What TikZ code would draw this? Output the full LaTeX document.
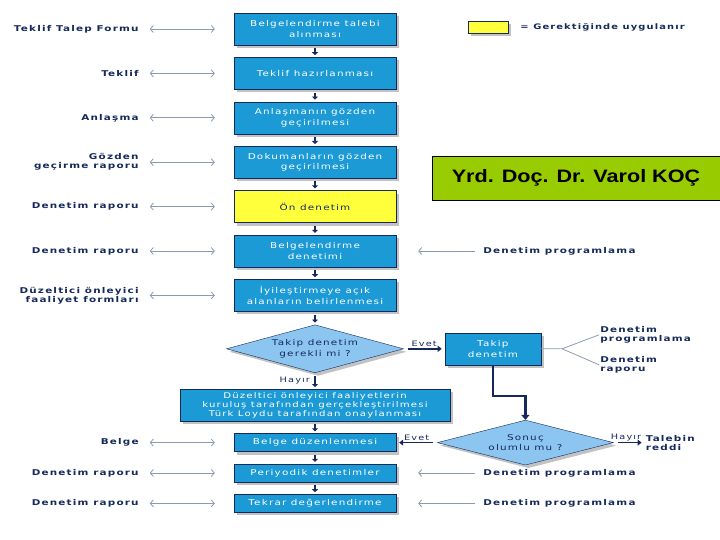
\documentclass[tikz,border=0pt]{standalone}
\usepackage{fontspec}
\usepackage{xcolor}
\usepackage{tikz}
\usetikzlibrary{arrows.meta,positioning,shapes.geometric,shadows}
\newfontfamily\flowfont[FakeStretch=1.3,LetterSpace=15]{DejaVu Sans}
\newfontfamily\namefont[FakeStretch=1.2]{Liberation Sans}
\definecolor{tlnavy}{HTML}{15295A}
\definecolor{tlblue}{HTML}{1C9AD6}
\definecolor{tldia}{HTML}{8CC6F0}
\definecolor{tlgray}{HTML}{8C9BB0}
\definecolor{tlyellow}{HTML}{FFFF3C}
\definecolor{tlgreen}{HTML}{99CC00}

\begin{document}
\begin{tikzpicture}[x=1pt, y=-1pt, >=Stealth, node distance=12pt,
  box/.style={rectangle, draw=tlnavy, fill=tlblue, text=white, minimum width=162pt,
              minimum height=32pt, inner sep=2pt, align=center,
              font=\flowfont\fontsize{8}{10.5}\selectfont,
              drop shadow={shadow xshift=3pt, shadow yshift=-3pt, fill=black!40, opacity=.6}},
  ybox/.style={box, fill=tlyellow, text=tlnavy},
  dec/.style={diamond, draw=tlnavy, fill=tldia, text=tlnavy, inner sep=0pt, aspect=3.7,
              align=center, font=\flowfont\fontsize{8}{10.5}\selectfont,
              drop shadow={shadow xshift=3pt, shadow yshift=-3pt, fill=black!40, opacity=.6}},
  lbl/.style={text=tlnavy, inner sep=1pt, align=right,
              font=\flowfont\bfseries\fontsize{8}{9}\selectfont},
  rlbl/.style={lbl, align=left},
  lab/.style={text=tlnavy, inner sep=1pt, font=\flowfont\fontsize{7.5}{8}\selectfont},
  dbl/.style={draw=tlgray, line width=0.8pt,
              {Straight Barb[length=3pt,width=7pt]}-{Straight Barb[length=3pt,width=7pt]},
              shorten <=10pt, shorten >=19pt},
  garr/.style={draw=tlgray, line width=0.8pt, -{Straight Barb[length=3pt,width=7pt]},
               shorten <=7pt, shorten >=22pt},
  flow/.style={draw=tlnavy, line width=2pt, -{Triangle[length=3pt,width=6pt]},
               shorten <=3pt, shorten >=2pt},
  yes/.style={draw=tlnavy, line width=1.5pt, -{Triangle[length=4pt,width=6pt]},
              shorten <=4pt, shorten >=3pt}]

  \useasboundingbox (0,0) rectangle (720,540);

  % Main flow
  \node[box] (b1) at (315,29) {Belgelendirme talebi\\alınması};
  \node[box, below=of b1] (b2) {Teklif hazırlanması};
  \node[box, below=of b2] (b3) {Anlaşmanın gözden\\geçirilmesi};
  \node[box, below=of b3] (b4) {Dokumanların gözden\\geçirilmesi};
  \node[ybox, below=of b4] (b5) {Ön denetim};
  \node[box, below=of b5] (b6) {Belgelendirme\\denetimi};
  \node[box, below=of b6] (b7) {İyileştirmeye açık\\alanların belirlenmesi};
  \node[dec, minimum width=177pt, minimum height=48pt, below=13pt of b7] (d1)
    {Takip denetim\\gerekli mi ?};
  \node[box, minimum width=270pt, below=16pt of d1,
        font=\flowfont\fontsize{7.8}{8.8}\selectfont] (b9)
    {Düzeltici önleyici faaliyetlerin\\kuruluş tarafından gerçekleştirilmesi\\Türk Loydu tarafından onaylanması};
  \node[box, minimum height=18pt, below=12pt of b9] (b10) {Belge düzenlenmesi};
  \node[box, minimum height=18pt, below=of b10] (b11) {Periyodik denetimler};
  \node[box, minimum height=18pt, below=of b11] (b12) {Tekrar değerlendirme};

  \foreach \a/\b in {b1/b2, b2/b3, b3/b4, b4/b5, b5/b6, b6/b7, b7/d1, b9/b10, b10/b11, b11/b12}
    \draw[flow] (\a) -- (\b);
  \draw[flow] (d1) -- (b9) node[midway, left=3pt, lab] {Hayır};

  % Follow-up branch
  \node[box, minimum width=96pt, right=41pt of d1] (t1) {Takip\\denetim};
  \node[dec, minimum width=176pt, minimum height=45pt, right=41pt of b10] (d2)
    {Sonuç\\olumlu mu ?};
  \draw[yes] (d1) -- (t1) node[midway, above, lab] {Evet};
  \draw[draw=tlnavy, line width=2.5pt, -{Triangle[length=5pt,width=8pt]}]
    (t1.south) -- ++(0,31) -| (d2.north);
  \draw[yes] (d2) -- (b10) node[midway, above, lab] {Evet};
  \node[rlbl, right=31pt of d2] (rej) {Talebin\\reddi};
  \draw[yes] (d2) -- (rej) node[midway, above, lab, xshift=-3pt] {Hayır};

  \coordinate[right=21pt of t1] (fk);
  \node[rlbl, right=37pt of fk, yshift=14pt] (tp) {Denetim\\programlama};
  \node[rlbl, right=37pt of fk, yshift=-16pt] (tr) {Denetim\\raporu};
  \draw[tlgray, line width=0.8pt] (t1) -- (fk) -- (tp.west);
  \draw[tlgray, line width=0.8pt] (fk) -- (tr.west);

  % Documents on the left
  \node[lbl, left=94pt of b1] (l1) {Teklif Talep Formu};
  \node[lbl, left=94pt of b2] (l2) {Teklif};
  \node[lbl, left=94pt of b3] (l3) {Anlaşma};
  \node[lbl, left=94pt of b4] (l4) {Gözden\\geçirme raporu};
  \node[lbl, left=94pt of b5] (l5) {Denetim raporu};
  \node[lbl, left=94pt of b6] (l6) {Denetim raporu};
  \node[lbl, left=94pt of b7] (l7) {Düzeltici önleyici\\faaliyet formları};
  \node[lbl, left=94pt of b10] (l10) {Belge};
  \node[lbl, left=94pt of b11] (l11) {Denetim raporu};
  \node[lbl, left=94pt of b12] (l12) {Denetim raporu};
  \foreach \l/\b in {l1/b1, l2/b2, l3/b3, l4/b4, l5/b5, l6/b6, l7/b7, l10/b10, l11/b11, l12/b12}
    \draw[dbl] (\l) -- (\b);

  % Planning on the right
  \node[rlbl, right=86pt of b6] (p6) {Denetim programlama};
  \node[rlbl, right=86pt of b11] (p11) {Denetim programlama};
  \node[rlbl, right=86pt of b12] (p12) {Denetim programlama};
  \foreach \p/\b in {p6/b6, p11/b11, p12/b12}
    \draw[garr] (\p) -- (\b);

  % Legend and name
  \node[ybox, minimum width=40pt, minimum height=12pt] (leg) at (488,27) {};
  \node[lbl, right=11pt of leg, font=\flowfont\bfseries\fontsize{7.6}{9}\selectfont] (legt)
    {= Gerektiğinde uygulanır};
  \node[draw=black, fill=tlgreen, minimum width=288pt, minimum height=44pt,
        font=\namefont\bfseries\fontsize{18}{20}\selectfont] (auth) at (576,178)
    {Yrd. Doç. Dr. Varol KOÇ};
\end{tikzpicture}
\end{document}
